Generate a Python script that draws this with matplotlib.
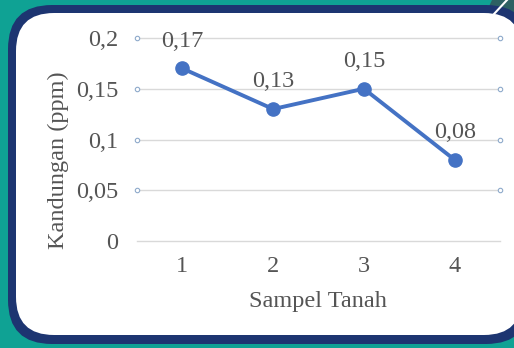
import matplotlib.pyplot as plt
from matplotlib.patches import FancyBboxPatch, Polygon

plt.rcParams['font.family'] = ['Liberation Serif', 'DejaVu Serif']

# soil sample data
samples = [1, 2, 3, 4]
kandungan = [0.17, 0.13, 0.15, 0.08]
y_ticks = [0, 0.05, 0.1, 0.15, 0.2]
y_tick_labels = ['0', '0,05', '0,1', '0,15', '0,2']

text_col = '#555555'
line_col = '#4472c4'
fs = 17.5

fig = plt.figure(figsize=(5.14, 3.48), dpi=100)
fig.patch.set_facecolor('#0fa294')

# background frame, drawn in pixel units
bg = fig.add_axes([0, 0, 1, 1], zorder=0)
bg.set_xlim(0, 514)
bg.set_ylim(348, 0)
bg.axis('off')
bg.add_patch(Polygon([(492, 0), (514, 0), (514, 30), (478, 30)], closed=True,
                     facecolor='#2d6163', edgecolor='none'))
bg.plot([507, 494], [0, 14], color='white', lw=1.5)
bg.add_patch(FancyBboxPatch((8, 5), 522, 339, boxstyle='round,pad=0,rounding_size=44',
                            facecolor='#1d3571', edgecolor='none'))
bg.add_patch(FancyBboxPatch((16, 13), 506, 322, boxstyle='round,pad=0,rounding_size=38',
                            facecolor='white', edgecolor='none'))

ax = fig.add_axes([137 / 514, 107 / 348, 363 / 514, 203 / 348], zorder=1)
ax.patch.set_alpha(0)
ax.set_xlim(0.5, 4.5)
ax.set_ylim(0, 0.2)

# horizontal gridlines with small circles at the ends
for y in y_ticks:
    ax.plot([0.5, 4.5], [y, y], color='#d9d9d9', lw=1.0, zorder=1, clip_on=False)
    if y > 0:
        ax.plot([0.5, 4.5], [y, y], ls='none', marker='o', ms=3.2,
                mfc='white', mec='#8eaacb', mew=0.8, zorder=2, clip_on=False)

ax.plot(samples, kandungan, color=line_col, lw=2.8, marker='o', ms=9.5,
        solid_capstyle='round', zorder=3, clip_on=False)

for x, v in zip(samples, kandungan):
    ax.annotate(f'{v:.2f}'.replace('.', ','), (x, v), xytext=(0, 19.5),
                textcoords='offset points', ha='center', va='center',
                fontsize=fs, color=text_col, annotation_clip=False)

ax.set_xticks(samples)
ax.set_xticklabels([str(s) for s in samples])
ax.set_yticks(y_ticks)
ax.set_yticklabels(y_tick_labels)
ax.tick_params(axis='both', length=0, labelsize=fs, labelcolor=text_col)
ax.tick_params(axis='y', pad=13.5)
ax.tick_params(axis='x', pad=11)
for s in ax.spines.values():
    s.set_visible(False)

fig.text(318 / 514, 1 - 302 / 348, 'Sampel Tanah', ha='center', va='center',
         fontsize=fs, color=text_col)
fig.text(58 / 514, 1 - 160 / 348, 'Kandungan (ppm)', ha='center', va='center',
         rotation=90, fontsize=fs, color=text_col)

fig.savefig('out.png', dpi=100, facecolor=fig.get_facecolor())
